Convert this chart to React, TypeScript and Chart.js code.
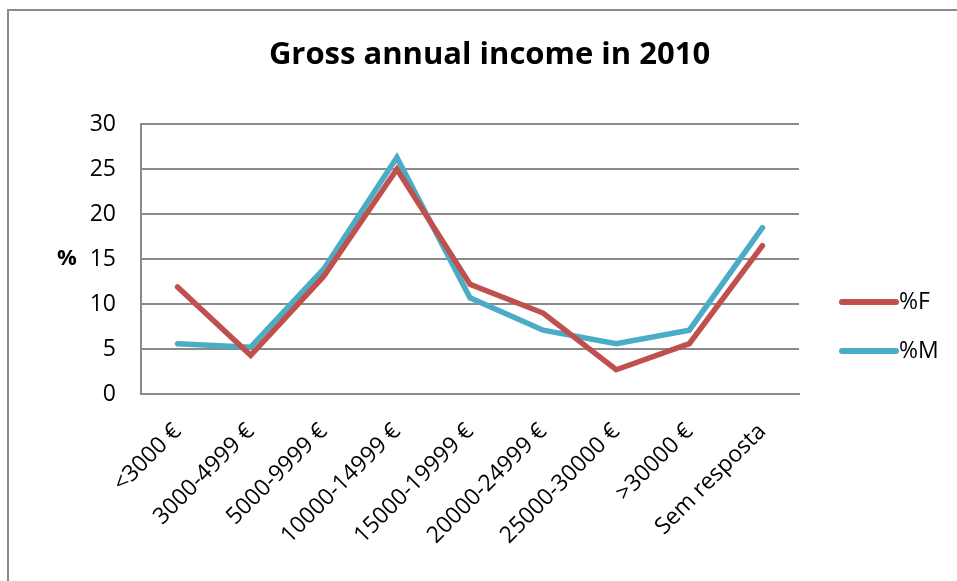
import React, { useEffect, useRef } from "react";
import { Chart, registerables } from "chart.js";

Chart.register(...registerables);

const categories = [
  "<3000 €",
  "3000-4999 €",
  "5000-9999 €",
  "10000-14999 €",
  "15000-19999 €",
  "20000-24999 €",
  "25000-30000 €",
  ">30000 €",
  "Sem resposta",
];
const femaleValues = [11.9, 4.3, 13.1, 25.0, 12.2, 9.0, 2.7, 5.6, 16.5];
const maleValues = [5.6, 5.2, 13.9, 26.3, 10.7, 7.1, 5.6, 7.1, 18.5];
const seriesLabels = ["%F", "%M"];
const seriesColors = ["#C0504D", "#4BACC6"];
const yMin = 0;
const yMax = 30;
const yStep = 5;
const titleText = "Gross annual income in 2010";
const yAxisTitle = "%";

const FONT = "'Open Sans', 'DejaVu Sans', sans-serif";

const decorPlugin = {
  id: "decor",
  beforeDraw(chart: any) {
    const ctx = chart.ctx;
    ctx.save();
    ctx.fillStyle = "#ffffff";
    ctx.fillRect(0, 0, chart.width, chart.height);
    ctx.strokeStyle = "#8a8a8a";
    ctx.lineWidth = 2;
    ctx.beginPath();
    ctx.moveTo(8, chart.height + 2);
    ctx.lineTo(8, 10);
    ctx.lineTo(chart.width + 2, 10);
    ctx.stroke();
    ctx.restore();
  },
  afterDraw(chart: any) {
    const ctx = chart.ctx;
    const area = chart.chartArea;
    ctx.save();
    // y axis title (horizontal)
    ctx.fillStyle = "#000000";
    ctx.font = `bold 22px ${FONT}`;
    ctx.textAlign = "center";
    ctx.textBaseline = "middle";
    ctx.fillText(yAxisTitle, 67, (area.top + area.bottom) / 2);
    // legend
    const lx0 = area.right + 43;
    const lx1 = lx0 + 54;
    const midY = (area.top + area.bottom) / 2;
    const ys = [midY + 43, midY + 92];
    chart.data.datasets.forEach((ds: any, i: number) => {
      ctx.strokeStyle = ds.borderColor;
      ctx.lineWidth = 6;
      ctx.lineCap = "round";
      ctx.beginPath();
      ctx.moveTo(lx0, ys[i]);
      ctx.lineTo(lx1, ys[i]);
      ctx.stroke();
      ctx.fillStyle = "#000000";
      ctx.font = `23px ${FONT}`;
      ctx.textAlign = "left";
      ctx.textBaseline = "middle";
      ctx.fillText(ds.label, lx1 + 3, ys[i]);
    });
    ctx.restore();
  },
};

export default function App() {
  const canvasRef = useRef<HTMLCanvasElement | null>(null);

  useEffect(() => {
    if (!canvasRef.current) return;
    const chart = new Chart(canvasRef.current, {
      type: "line",
      data: {
        labels: categories,
        datasets: [
          {
            label: seriesLabels[0],
            data: femaleValues,
            borderColor: seriesColors[0],
            backgroundColor: seriesColors[0],
            borderWidth: 5.5,
            pointRadius: 0,
            tension: 0,
            borderCapStyle: "round",
          },
          {
            label: seriesLabels[1],
            data: maleValues,
            borderColor: seriesColors[1],
            backgroundColor: seriesColors[1],
            borderWidth: 5.5,
            pointRadius: 0,
            tension: 0,
            borderCapStyle: "round",
          },
        ],
      },
      options: {
        animation: false,
        responsive: false,
        layout: { padding: { left: 22, right: 0, top: 0, bottom: 0 } },
        plugins: {
          legend: { display: false },
          tooltip: { enabled: false },
          title: {
            display: true,
            text: titleText,
            color: "#000000",
            font: { family: FONT, size: 31, weight: "bold", lineHeight: 1.2 },
            padding: { top: 37, bottom: 50 },
          },
        },
        scales: {
          x: {
            type: "category",
            offset: true,
            grid: { display: false, drawTicks: false },
            border: { display: true, color: "#8a8a8a", width: 2 },
            ticks: {
              color: "#000000",
              font: { family: FONT, size: 23 },
              minRotation: 45,
              maxRotation: 45,
              autoSkip: false,
              padding: 24,
            },
            afterFit(scale: any) {
              scale.height = 187;
            },
          },
          y: {
            min: yMin,
            max: yMax,
            grid: { color: "#8a8a8a", lineWidth: 2, drawTicks: false },
            border: { display: true, color: "#8a8a8a", width: 2 },
            ticks: {
              stepSize: yStep,
              color: "#000000",
              font: { family: FONT, size: 23 },
              padding: 25,
            },
            afterFit(scale: any) {
              scale.width = 119;
            },
          },
          legendSpace: {
            type: "linear",
            position: "right",
            display: true,
            grid: { display: false, drawTicks: false },
            border: { display: false },
            ticks: { display: false },
            afterFit(scale: any) {
              scale.width = 158;
            },
          },
        },
      },
      plugins: [decorPlugin],
    });
    return () => chart.destroy();
  }, []);

  return (
    <div style={{ position: "fixed", left: 0, top: 0, width: 957, height: 581, background: "#fff" }}>
      <canvas ref={canvasRef} width={957} height={581} style={{ width: 957, height: 581 }} />
    </div>
  );
}
